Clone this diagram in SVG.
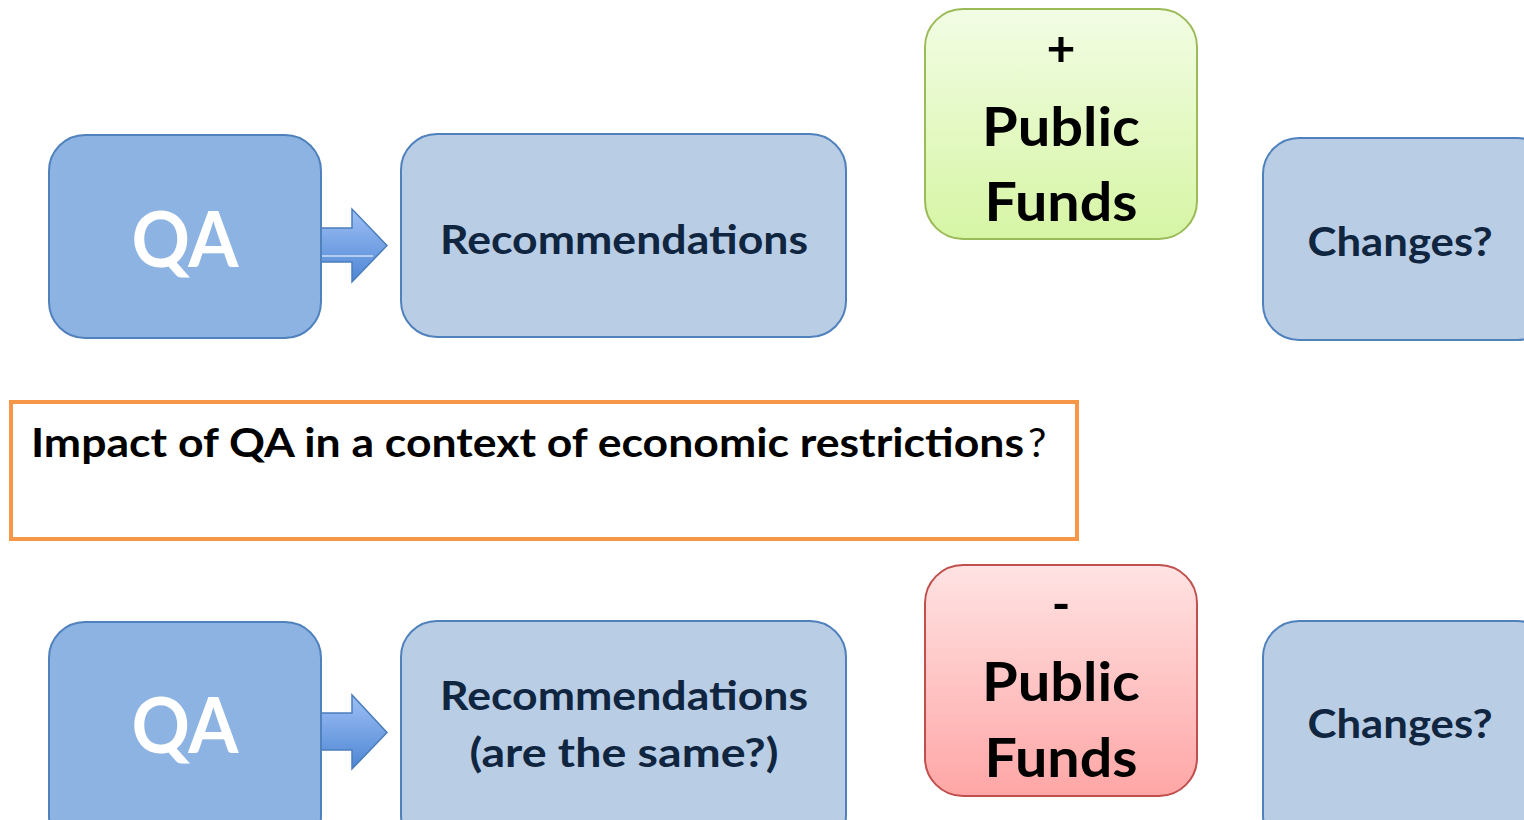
<svg xmlns="http://www.w3.org/2000/svg" width="1524" height="820" viewBox="0 0 1524 820">
<defs>
<linearGradient id="gGreen" x1="0" y1="0" x2="0" y2="1"><stop offset="0" stop-color="#F2FDE4"/><stop offset="1" stop-color="#D6F5A4"/></linearGradient>
<linearGradient id="gRed" x1="0" y1="0" x2="0" y2="1"><stop offset="0" stop-color="#FFE3E3"/><stop offset="1" stop-color="#FFA6A6"/></linearGradient>
<linearGradient id="gArrow" x1="0" y1="0" x2="0" y2="1"><stop offset="0" stop-color="#9EC0F5"/><stop offset="1" stop-color="#4E86D4"/></linearGradient>
<style>
.qa{fill:#8DB3E2;stroke:#4F81BD;stroke-width:2}
.lb{fill:#B9CDE5;stroke:#4F81BD;stroke-width:2}
.t{font-family:Lato,"Open Sans",sans-serif;font-weight:bold;text-anchor:middle}
.w{fill:#FFFFFF}
.n{fill:#10253F}
.k{fill:#000000}
.arr{fill:url(#gArrow);stroke:#4A7EBB;stroke-width:1.5}
</style>
</defs>
<g id="connectors">
<path class="arr" d="M321,228 H352 V209 L387,245.5 L352,282 V262 H321 Z"/>
<line x1="321" y1="256" x2="373" y2="256" stroke="#FFFFFF" stroke-width="1"/>
<path class="arr" d="M321,713 H352 V695 L387,732.5 L352,769 V750 H321 Z"/>
</g>
<g id="qa1"><rect class="qa" x="49" y="135" width="272" height="203" rx="36"/><text class="t w" x="185" y="267" font-size="76" textLength="107" lengthAdjust="spacingAndGlyphs">QA</text></g>
<g id="rec1"><rect class="lb" x="401" y="134" width="445" height="203" rx="36"/><text class="t n" x="624" y="254" font-size="40" textLength="368" lengthAdjust="spacingAndGlyphs">Recommendations</text></g>
<g id="plus"><rect x="925" y="9" width="272" height="230" rx="38" fill="url(#gGreen)" stroke="#9BBB59" stroke-width="2"/>
<text class="t k" x="1061" y="66" font-size="50">+</text>
<text class="t k" x="1061" y="146" font-size="54" textLength="158" lengthAdjust="spacingAndGlyphs">Public</text>
<text class="t k" x="1061" y="221" font-size="54" textLength="153" lengthAdjust="spacingAndGlyphs">Funds</text></g>
<g id="chg1"><rect class="lb" x="1263" y="138" width="290" height="202" rx="36"/><text class="t n" x="1400" y="256" font-size="40" textLength="185" lengthAdjust="spacingAndGlyphs">Changes?</text></g>
<g id="impact"><rect x="11" y="402" width="1066" height="137" fill="#FFFFFF" stroke="#F79646" stroke-width="4"/>
<text x="31" y="457" font-family="Lato,'Open Sans',sans-serif" font-size="41" fill="#000000"><tspan font-weight="bold" textLength="993" lengthAdjust="spacingAndGlyphs">Impact of QA in a context of economic restrictions</tspan><tspan x="1028">?</tspan></text></g>
<g id="qa2"><rect class="qa" x="49" y="622" width="272" height="230" rx="36"/><text class="t w" x="185" y="753" font-size="76" textLength="107" lengthAdjust="spacingAndGlyphs">QA</text></g>
<g id="rec2"><rect class="lb" x="401" y="621" width="445" height="230" rx="36"/>
<text class="t n" x="624" y="710" font-size="40" textLength="368" lengthAdjust="spacingAndGlyphs">Recommendations</text>
<text class="t n" x="624" y="767" font-size="40" textLength="309" lengthAdjust="spacingAndGlyphs">(are the same?)</text></g>
<g id="minus"><rect x="925" y="565" width="272" height="231" rx="38" fill="url(#gRed)" stroke="#C0504D" stroke-width="2"/>
<text class="t k" x="1061" y="622" font-size="50">-</text>
<text class="t k" x="1061" y="701" font-size="54" textLength="158" lengthAdjust="spacingAndGlyphs">Public</text>
<text class="t k" x="1061" y="777" font-size="54" textLength="153" lengthAdjust="spacingAndGlyphs">Funds</text></g>
<g id="chg2"><rect class="lb" x="1263" y="621" width="290" height="230" rx="36"/><text class="t n" x="1400" y="738" font-size="40" textLength="185" lengthAdjust="spacingAndGlyphs">Changes?</text></g>
</svg>
